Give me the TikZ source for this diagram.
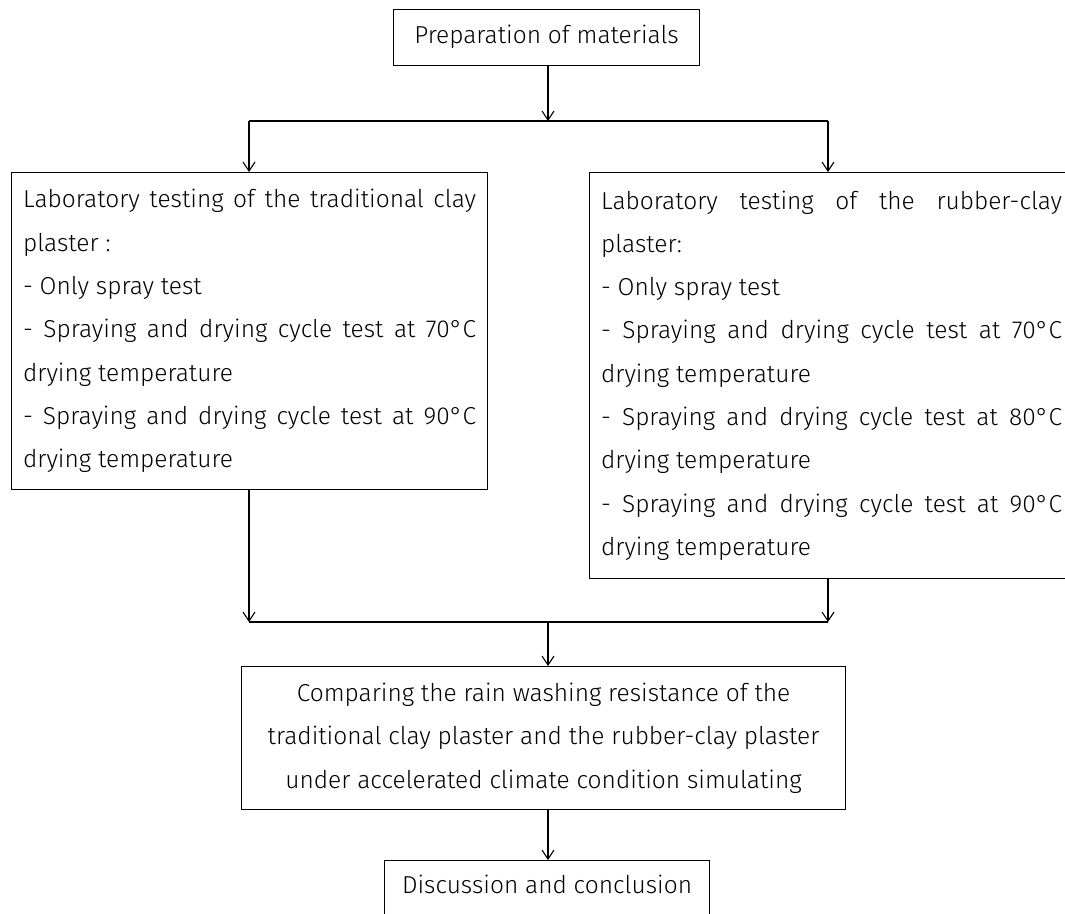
\documentclass[tikz,border=0pt]{standalone}
\usepackage{fontspec}
\setmainfont{Fira Sans Light}
\usetikzlibrary{arrows.meta}
\tikzset{
  box/.style={draw, line width=1.1pt, rectangle, inner sep=0pt, anchor=north west},
  conn/.style={line width=1.1pt},
  arr/.style={conn, -{Straight Barb[length=9pt,width=12pt,line width=1.1pt]}},
  sidebox/.style={box, align=justify, inner xsep=11.5pt},
}
\begin{document}
\begin{tikzpicture}[x=1pt,y=-1pt,font=\fontsize{24.5}{43.3}\selectfont]
\useasboundingbox (0,0) rectangle (1065,913);
\clip (0,0) rectangle (1065,913);
\hyphenpenalty=10000 \tolerance=10000
\node[box, minimum width=306pt, text height=34pt, text depth=22pt] (top) at (393,9) {Preparation of materials};
\node[sidebox, text width=453pt, minimum height=317pt] (left) at (11,172)
  {\parindent=0pt Laboratory testing of the traditional clay\linebreak plaster :\par
   - Only spray test\par
   - Spraying and drying cycle test at 70°C\linebreak drying temperature\par
   - Spraying and drying cycle test at 90°C\linebreak drying temperature};
\node[sidebox, text width=461pt, minimum height=406pt] (right) at (589,172)
  {\parindent=0pt Laboratory testing of the rubber-clay\linebreak plaster:\par
   - Only spray test\par
   - Spraying and drying cycle test at 70°C\linebreak drying temperature\par
   - Spraying and drying cycle test at 80°C\linebreak drying temperature\par
   - Spraying and drying cycle test at 90°C\linebreak drying temperature};
\node[box, minimum width=604pt, minimum height=143pt, align=center] (mid) at (241,666)
  {Comparing the rain washing resistance of the\\
   traditional clay plaster and the rubber-clay plaster\\
   under accelerated climate condition simulating};
\node[box, minimum width=325pt, text height=33pt, text depth=45pt] (bot) at (384,860) {Discussion and conclusion};
\coordinate (sM) at (548,121);
\coordinate (sL) at (249,121);
\coordinate (sR) at (828,121);
\coordinate (jL) at (249,622);
\coordinate (jR) at (828,622);
\coordinate (jM) at (548,622);
\draw[arr] (top.south -| sM) -- (sM);
\draw[conn] (sL) -- (sR);
\draw[arr] (sL) -- (sL |- left.north);
\draw[arr] (sR) -- (sR |- right.north);
\draw[arr] (left.south -| jL) -- (jL);
\draw[arr] (right.south -| jR) -- (jR);
\draw[conn] (jL) -- (jR);
\draw[arr] (jM) -- (jM |- mid.north);
\draw[arr] (mid.south -| jM) -- (jM |- bot.north);
\end{tikzpicture}
\end{document}
